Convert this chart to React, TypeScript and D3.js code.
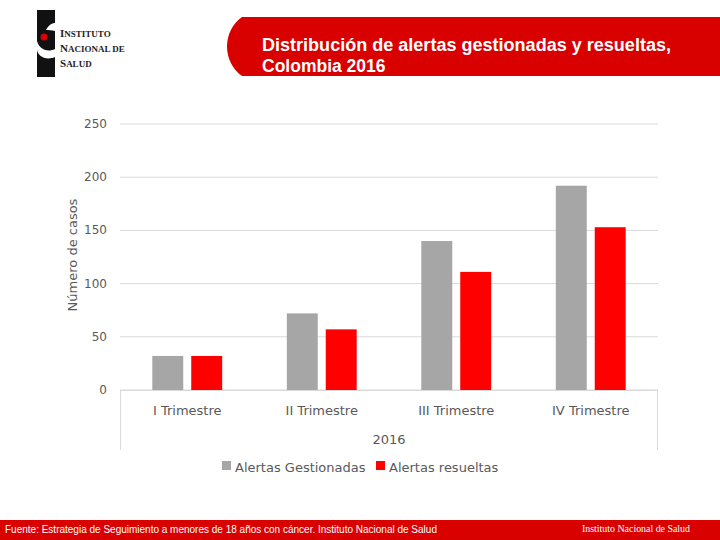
import React from 'react';
import * as d3 from 'd3';

const categories = ['I Trimestre', 'II Trimestre', 'III Trimestre', 'IV Trimestre'];
const gestionadas = [32, 72, 140, 192];
const resueltas = [32, 57, 111, 153];
const yTicks = [0, 50, 100, 150, 200, 250];
const seriesNames = ['Alertas Gestionadas', 'Alertas resueltas'];
const seriesColors = ['#a6a6a6', '#ff0000'];

const W = 720;
const H = 540;
const M = { left: 120, right: 658, top: 124, bottom: 390 };
const FONT = '"DejaVu Sans", "Open Sans", sans-serif';

const App = () => {
  const x = d3.scaleBand<string>().domain(categories).range([M.left, M.right]);
  // two bars per quarter, ~31px wide with an 8px gap
  const inner = d3.scaleBand<number>().domain([0, 1]).range([0, x.bandwidth()]).paddingInner(0.205).paddingOuter(0.83);
  const y = d3.scaleLinear().domain([0, 250]).range([M.bottom, M.top]);
  const series = [gestionadas, resueltas];

  return (
    <svg width={W} height={H} style={{ position: 'absolute', left: 0, top: 0, background: '#fff' }}>
      {/* logo */}
      <g>
        <rect x={37} y={10} width={18} height={67} fill="#111" />
        <path d="M46,30 C49,24 53,23 55,23 L55,31 C52,30 49,30 46,30 Z" fill="#fff" />
        <path d="M37,41 C40,51 49,52 55,49 L55,57 C46,61 37,56 37,49 Z" fill="#fff" />
        <circle cx={44} cy={37} r={7} fill="#111" />
        <circle cx={44} cy={37} r={3.5} fill="#d00" />
        <g fontFamily='"Liberation Serif", serif' fontWeight="bold" fill="#222">
          <text x={60} y={37} fontSize={9}><tspan fontSize={11}>I</tspan>NSTITUTO</text>
          <text x={60} y={52} fontSize={9}><tspan fontSize={11}>N</tspan>ACIONAL DE</text>
          <text x={60} y={67} fontSize={9}><tspan fontSize={11}>S</tspan>ALUD</text>
        </g>
      </g>

      {/* header band */}
      <path d="M242,17 L720,17 L720,76 L242,76 C222,62 222,31 242,17 Z" fill="#d90000" />
      <g fontFamily='"Liberation Sans", Arial, sans-serif' fontWeight="bold" fontSize={17.5} fill="#fff">
        <text x={262} y={51} textLength={409} lengthAdjust="spacingAndGlyphs">Distribución de alertas gestionadas y resueltas,</text>
        <text x={262} y={72}>Colombia 2016</text>
      </g>

      {/* gridlines */}
      {yTicks.map(t => (
        <line key={t} x1={M.left} x2={M.right} y1={y(t)} y2={y(t)} stroke="#d9d9d9" strokeWidth={1} />
      ))}
      {yTicks.map(t => (
        <text key={'l' + t} x={107} y={y(t) + 4} textAnchor="end" fontFamily={FONT} fontSize={12} fill="#595959">{t}</text>
      ))}
      <text transform={`translate(77,255) rotate(-90)`} textAnchor="middle" fontFamily={FONT} fontSize={13} fill="#595959">Número de casos</text>

      {/* bars */}
      {categories.map((c, i) => (
        <g key={c}>
          {series.map((s, k) => (
            <rect key={k} x={(x(c) ?? 0) + (inner(k) ?? 0)} y={y(s[i])} width={inner.bandwidth()} height={y(0) - y(s[i])} fill={seriesColors[k]} />
          ))}
        </g>
      ))}

      {/* category axis */}
      <line x1={M.left} x2={M.right} y1={M.bottom + 0.5} y2={M.bottom + 0.5} stroke="#d9d9d9" />
      <line x1={M.left + 0.5} x2={M.left + 0.5} y1={M.bottom} y2={450} stroke="#d9d9d9" />
      <line x1={M.right - 0.5} x2={M.right - 0.5} y1={M.bottom} y2={450} stroke="#d9d9d9" />
      {categories.map(c => (
        <text key={c} x={(x(c) ?? 0) + x.bandwidth() / 2} y={415} textAnchor="middle" fontFamily={FONT} fontSize={13} fill="#595959">{c}</text>
      ))}
      <text x={(M.left + M.right) / 2} y={444} textAnchor="middle" fontFamily={FONT} fontSize={13} fill="#595959">2016</text>

      {/* legend */}
      <rect x={222} y={461} width={9} height={9} fill={seriesColors[0]} />
      <text x={235} y={472} fontFamily={FONT} fontSize={13} fill="#595959">{seriesNames[0]}</text>
      <rect x={376} y={461} width={9} height={9} fill={seriesColors[1]} />
      <text x={389} y={472} fontFamily={FONT} fontSize={13} fill="#595959">{seriesNames[1]}</text>

      {/* footer */}
      <rect x={0} y={520} width={W} height={20} fill="#d90000" />
      <text x={5} y={533} fontFamily='"Liberation Sans", Arial, sans-serif' fontSize={10} fill="#fff">Fuente: Estrategia de Seguimiento a menores de 18 años con cáncer. Instituto Nacional de Salud</text>
      <text x={582} y={532} fontFamily='"Liberation Serif", serif' fontSize={11} fill="#fff" textLength={108} lengthAdjust="spacingAndGlyphs">Instituto Nacional de Salud</text>
    </svg>
  );
};

export default App;
